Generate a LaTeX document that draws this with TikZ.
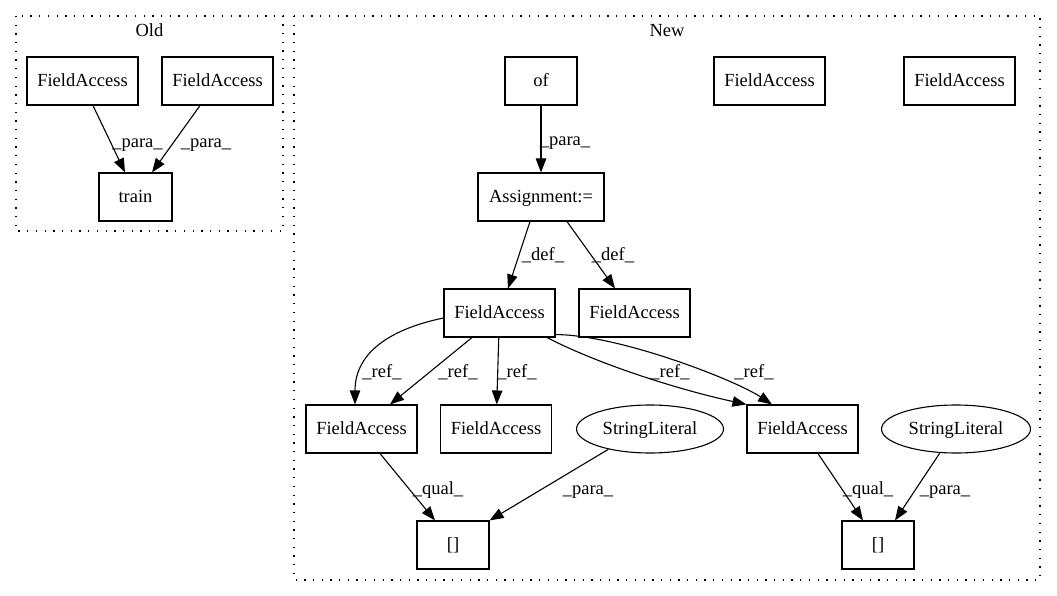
\documentclass[tikz,border=0pt]{standalone}
\usepackage{fontspec}
\setmainfont{Liberation Serif}
\usetikzlibrary{arrows.meta,shapes.geometric}
\begin{document}
\begin{tikzpicture}[x=1pt,y=-1pt,
  every node/.style={font=\fontsize{18.5pt}{22pt}\selectfont,text height=14pt,text depth=3pt},
  box/.style={draw,line width=1.1pt,rectangle,minimum height=48pt,minimum width=111pt,inner sep=0pt},
  oval/.style={draw,line width=1.1pt,ellipse,minimum height=48pt,minimum width=147pt,inner sep=0pt},
  conn/.style={line width=1.1pt,-{Triangle[length=14pt,width=10.5pt]}},
  lbl/.style={inner sep=0pt},
  cluster/.style={line width=1.3pt,dash pattern=on 1.3pt off 7.4pt}]
\useasboundingbox (0,0) rectangle (1057,596);

% clusters
\draw[cluster] (16,16) rectangle (283,231);
\draw[cluster] (294,16) rectangle (1040,580);
\node[lbl] (oldtitle) at (149.5,31) {Old};
\node[lbl] (newtitle) at (667,31) {New};

% Old nodes
\node[box] (oFA1) at (82.5,81) {FieldAccess};
\node[box] (oFA2) at (217.5,81) {FieldAccess};
\node[box,minimum width=73pt] (train) at (135.5,197) {train};

% New nodes
\node[box,minimum width=72pt] (of) at (541,81) {of};
\node[box] (nFA1) at (769.5,81) {FieldAccess};
\node[box] (nFA2) at (959.5,81) {FieldAccess};
\node[box,minimum width=126pt] (asg) at (541,197) {Assignment:=};
\node[box] (d1) at (499.5,313) {FieldAccess};
\node[box] (d2) at (634.5,313) {FieldAccess};
\node[box] (r1) at (361.5,429) {FieldAccess};
\node[box] (r2) at (496,429) {FieldAccess};
\node[oval] (sl1) at (650,429) {StringLiteral};
\node[box] (r3) at (802.5,429) {FieldAccess};
\node[oval,minimum width=149pt] (sl2) at (956,429) {StringLiteral};
\node[box,minimum width=72pt] (b1) at (453,545) {[]};
\node[box,minimum width=72pt] (b2) at (878,545) {[]};

% Old edges
\draw[conn] ([xshift=10.5pt]oFA1.south) -- ([xshift=-10.5pt]train.north);
\draw[conn] ([xshift=-17.5pt]oFA2.south) -- ([xshift=16.5pt]train.north);
\node[lbl] (l1) at (137.5,142) {\_para\_};
\node[lbl] (l2) at (206,142) {\_para\_};

% New edges
\draw[conn] (of) -- (asg);
\node[lbl] (l3) at (565,140) {\_para\_};
\draw[conn] ([xshift=-11pt]asg.south) -- ([xshift=8.5pt]d1.north);
\node[lbl] (l4) at (543,255) {\_def\_};
\draw[conn] ([xshift=26pt]asg.south) -- ([xshift=-19.5pt]d2.north);
\node[lbl] (l5) at (613,255) {\_def\_};

\draw[conn] ([yshift=-5pt]d1.west) .. controls (395,328) and (355,350) .. ([xshift=-6.5pt]r1.north);
\node[lbl] (l6) at (382,372) {\_ref\_};
\draw[conn] ([xshift=-27.5pt]d1.south) -- ([xshift=28.5pt]r1.north);
\node[lbl] (l7) at (458,372) {\_ref\_};
\draw[conn] (d1) -- (r2);
\node[lbl] (l8) at (517,372) {\_ref\_};
\draw[conn] ([xshift=47.5pt]d1.south) .. controls (600,365) and (680,390) .. (r3.north west);
\node[lbl] (l9) at (670,372) {\_ref\_};
\draw[conn] ([yshift=3pt]d1.south east) .. controls (620,335) and (735,380) .. ([xshift=-30.5pt]r3.north);
\node[lbl] (l10) at (754,372) {\_ref\_};

\draw[conn] ([xshift=18.5pt]r1.south) -- ([xshift=-18pt]b1.north);
\node[lbl] (l11) at (438,489) {\_qual\_};
\draw[conn] (sl1.206) -- (b1.north east);
\node[lbl] (l12) at (588,489) {\_para\_};
\draw[conn] ([xshift=15.5pt]r3.south) -- ([xshift=-15pt]b2.north);
\node[lbl] (l13) at (868,489) {\_qual\_};
\draw[conn] (sl2.236) -- ([xshift=17pt]b2.north);
\node[lbl] (l14) at (945,489) {\_para\_};
\end{tikzpicture}
\end{document}
